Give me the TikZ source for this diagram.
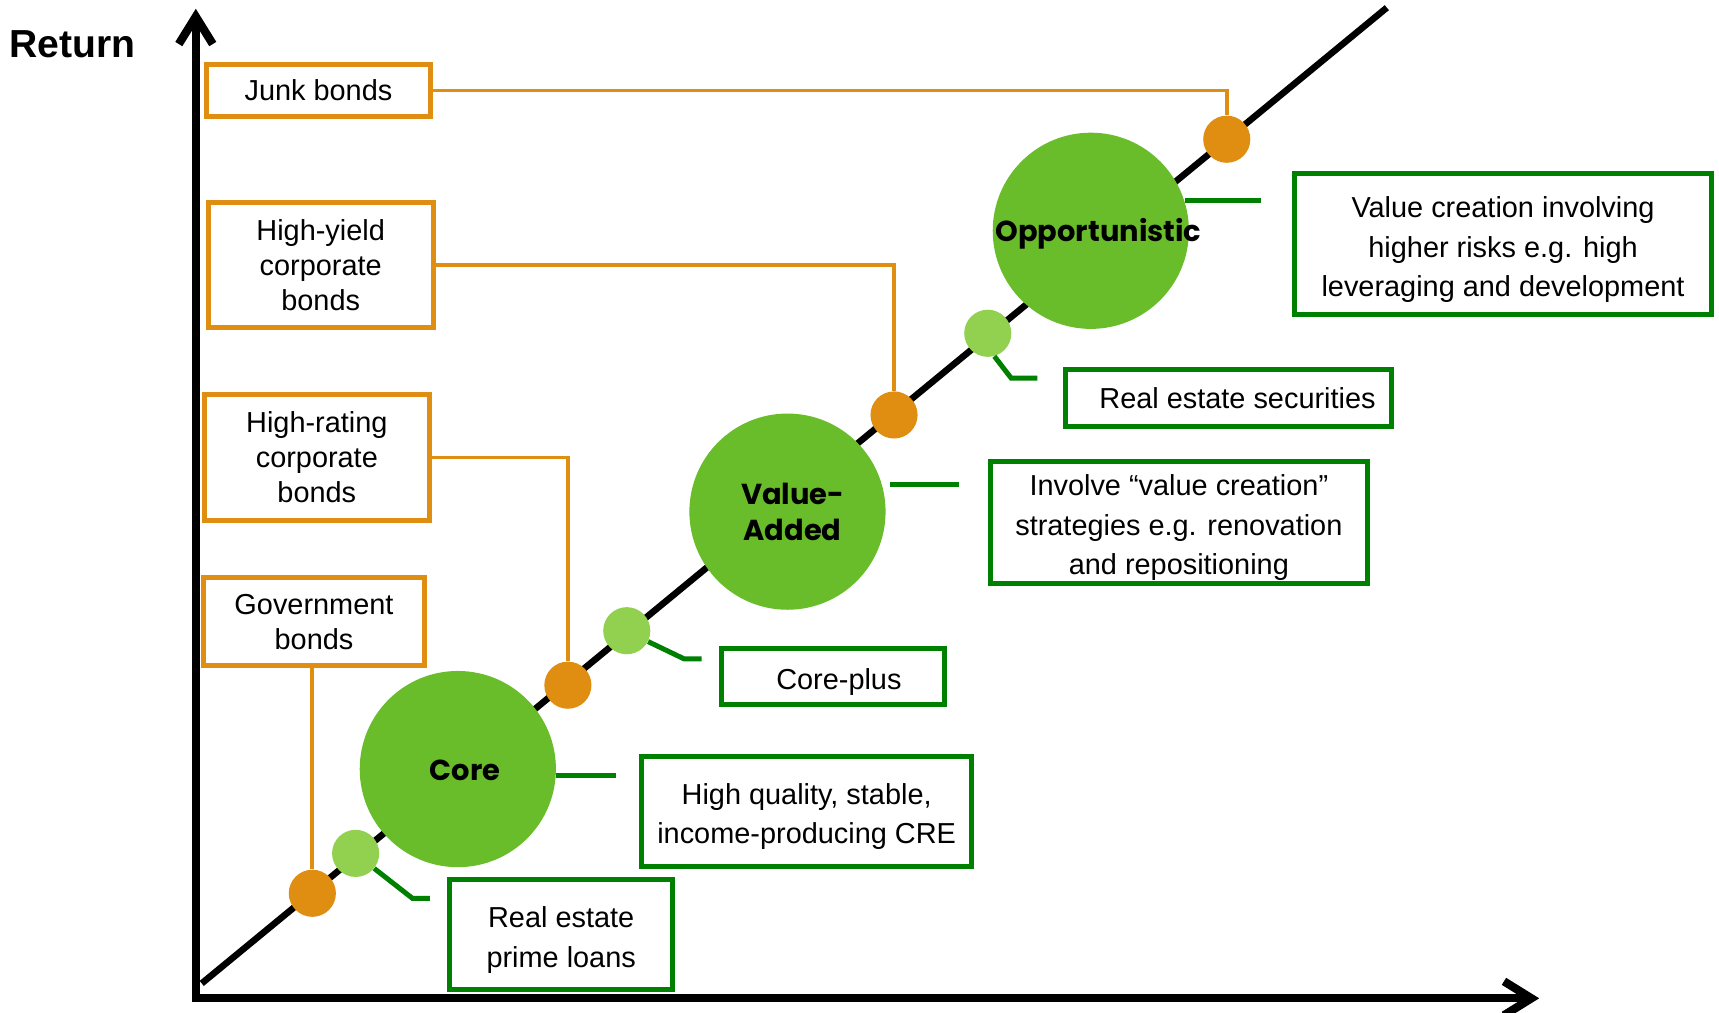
\documentclass[tikz,border=0pt]{standalone}
\usepackage{fontspec}
\setmainfont{Liberation Sans}
\newfontfamily\circfont{Poppins}
\usetikzlibrary{arrows.meta,calc}
\definecolor{bondorange}{RGB}{223,142,18}
\definecolor{boxgreen}{RGB}{0,128,0}
\definecolor{stylegreen}{RGB}{105,188,42}
\definecolor{dotgreen}{RGB}{146,208,80}
\newcommand\lift{\rule{0pt}{1.1em}}

\begin{document}
\begin{tikzpicture}[x=0.02cm, y=-0.02cm,
  bondbox/.style={draw=bondorange, line width=2.6pt, fill=white, inner sep=0pt, align=center,
    font=\fontsize{15}{18.2}\selectfont},
  rebox/.style={draw=boxgreen, line width=2.6pt, fill=white, inner sep=0pt, align=center,
    font=\fontsize{15}{20.5}\selectfont},
  stylecirc/.style={circle, fill=stylegreen, minimum size=3.58cm, inner sep=0pt},
  circtext/.style={inner sep=0pt, align=center, font=\circfont\bfseries\fontsize{15}{19}\selectfont},
  bonddot/.style={circle, fill=bondorange, minimum size=0.86cm, inner sep=0pt},
  redot/.style={circle, fill=dotgreen, minimum size=0.86cm, inner sep=0pt},
  bondline/.style={draw=bondorange, line width=2pt},
  reline/.style={draw=boxgreen, line width=2.6pt},
  axis/.style={line width=4.3pt,
    {Straight Barb[length=0.5cm,width=0.62cm]}-{Straight Barb[length=0.5cm,width=0.62cm]}}
]
\useasboundingbox (0,0) rectangle (1568,924);

% Axes
\coordinate (ytip) at (178.6,8);
\coordinate (orig) at (178.6,910.6);
\coordinate (xtip) at (1404,910.6);
\draw[axis] (ytip) -- (orig) -- (xtip);
\node[anchor=base west, inner sep=0pt, font=\bfseries\fontsize{20.3}{22}\selectfont] (ret) at (8,52) {Return};

% Risk-return line
\coordinate (lo) at (184,897);
\coordinate (hi) at (1265,7);
\draw[line width=3.4pt] (lo) -- (hi);

% Bond boxes
\node[bondbox, minimum width=4.1cm, minimum height=0.96cm] (junk) at (290.5,82.5) {Junk bonds};
\node[bondbox, minimum width=4.1cm, minimum height=2.29cm] (hiyield) at (292.5,241.7) {High-yield\\corporate\\bonds};
\node[bondbox, minimum width=4.1cm, minimum height=2.3cm] (hirate) at (289,417.3) {High-rating\\corporate\\bonds};
\node[bondbox, minimum width=4.03cm, minimum height=1.6cm] (gov) at (286.4,567) {Government\\bonds};

% Real estate boxes
\node[rebox, minimum width=7.61cm, minimum height=2.566cm] (oppbox) at (1371,222.7) {\lift Value creation involving\\higher risks e.g. high\\leveraging and development};
\node[rebox, minimum width=5.94cm, minimum height=1.04cm] (secbox) at (1120.8,363.4) {\hspace{0.32cm}Real estate securities};
\node[rebox, minimum width=6.884cm, minimum height=2.224cm] (vabox) at (1075.3,476.6) {\lift Involve “value creation”\\strategies e.g. renovation\\and repositioning};
\node[rebox, minimum width=4.07cm, minimum height=1.01cm] (cpbox) at (760.2,617.2) {\lift\hspace{0.2cm}Core-plus};
\node[rebox, minimum width=6.03cm, minimum height=2.004cm] (corebox) at (735.8,739.9) {\lift High quality, stable,\\income-producing CRE};
\node[rebox, minimum width=4.074cm, minimum height=2cm] (loanbox) at (511.9,852.6) {\lift Real estate\\prime loans};

% Strategy circles
\node[stylecirc] (opp) at (995,210.5) {};
\node[circtext] (opptxt) at (1002,213) {Opportunistic};
\node[stylecirc] (va) at (718.3,466.7) {};
\node[circtext] (vatxt) at (723,467) {Value-\\Added};
\node[stylecirc] (core) at (417.6,701.5) {};
\node[circtext] (coretxt) at (424.4,703) {Core};

% Dots on the line
\node[bonddot] (jdot) at (1119,127) {};
\node[bonddot] (hydot) at (815.5,378.5) {};
\node[bonddot] (hrdot) at (518,625) {};
\node[bonddot] (gdot) at (284.9,814.8) {};
\node[redot] (secdot) at (901,304) {};
\node[redot] (cpdot) at (571.7,575.3) {};
\node[redot] (loandot) at (324.4,778.4) {};

% Bond connectors
\draw[bondline] (junk.east) -| (jdot.north);
\draw[bondline] (hiyield.east) -| (hydot.north);
\draw[bondline] (hirate.east) -| (hrdot.north);
\draw[bondline] (gov.south -| gdot.north) -- (gdot.north);

% Real estate connectors
\draw[reline] (opp.18) -- ++(70,0);
\draw[reline] ($(va.16)+(7,0)$) -- ++(63,0);
\draw[reline] (core.-4) -- ++(55,0);
\draw[reline] (secdot.-74) -- ++(15.4,20) -- ++(23.8,0);
\draw[reline] (cpdot.-27) -- ++(32.7,15.7) -- ++(16.2,0);
\draw[reline] (loandot.-39) -- ++(35,27.4) -- ++(15.8,0);
\end{tikzpicture}
\end{document}
